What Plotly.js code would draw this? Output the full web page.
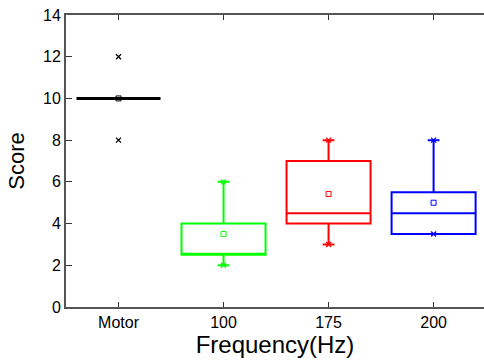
<!DOCTYPE html>
<html>
<head>
<meta charset="utf-8">
<script src="https://cdn.plot.ly/plotly-3.0.1.min.js"></script>
<style>html,body{margin:0;padding:0;background:#fff;}#chart{width:484px;height:363px;}</style>
</head>
<body>
<div id="chart"></div>
<script>
var categories = ['Motor', '100', '175', '200'];
var q1Values = [10, 2.5, 4, 3.5];
var medianValues = [10, 2.5, 4.5, 4.5];
var q3Values = [10, 4, 7, 5.5];
var lowerValues = [10, 2, 3, 3.5];
var upperValues = [10, 6, 8, 8];
var meanValues = [10, 3.5, 5.42, 5.0];
var minValues = [8, 2, 3, 3.5];
var maxValues = [12, 6, 8, 8];
var colors = ['#000000', '#00ff00', '#ff0000', '#0000ff'];
var lineWidths = [3, 2, 2, 2];

var traces = [];
for (var i = 0; i < categories.length; i++) {
  traces.push({
    type: 'box',
    x: [categories[i]],
    q1: [q1Values[i]],
    median: [medianValues[i]],
    q3: [q3Values[i]],
    lowerfence: [lowerValues[i]],
    upperfence: [upperValues[i]],
    width: 0.8,
    whiskerwidth: 0.14,
    line: {color: colors[i], width: lineWidths[i]},
    fillcolor: 'rgba(0,0,0,0)',
    boxpoints: false,
    hoverinfo: 'skip',
    showlegend: false
  });
  traces.push({
    type: 'scatter',
    mode: 'markers',
    x: [categories[i], categories[i]],
    y: [minValues[i], maxValues[i]],
    marker: {symbol: 'x-thin', size: 5, line: {color: colors[i], width: 1.3}},
    hoverinfo: 'skip',
    showlegend: false
  });
  traces.push({
    type: 'scatter',
    mode: 'markers',
    x: [categories[i]],
    y: [meanValues[i]],
    marker: {symbol: 'square-open', size: 5, color: colors[i], line: {color: colors[i], width: 1}},
    hoverinfo: 'skip',
    showlegend: false
  });
}

var layout = {
  width: 484,
  height: 363,
  margin: {l: 66, r: 0, t: 15, b: 56},
  paper_bgcolor: '#ffffff',
  plot_bgcolor: '#ffffff',
  font: {family: 'Liberation Sans, Arial, sans-serif', color: '#000000', size: 16},
  showlegend: false,
  xaxis: {
    type: 'category',
    categoryorder: 'array',
    categoryarray: categories,
    range: [-0.5, 3.48],
    showgrid: false,
    zeroline: false,
    showline: true,
    linecolor: '#555555',
    linewidth: 2,
    mirror: 'ticks',
    ticks: 'inside',
    ticklen: 5,
    tickwidth: 1,
    tickcolor: '#333333',
    tickfont: {size: 16},
    automargin: false,
    title: {text: 'Frequency(Hz)', font: {size: 24}, standoff: 2}
  },
  yaxis: {
    range: [0, 14],
    tickvals: [0, 2, 4, 6, 8, 10, 12, 14],
    showgrid: false,
    zeroline: false,
    showline: true,
    linecolor: '#555555',
    linewidth: 2,
    ticks: 'inside',
    ticklen: 6,
    tickwidth: 1,
    tickcolor: '#333333',
    tickfont: {size: 16},
    automargin: false,
    title: {text: 'Score', font: {size: 22}, standoff: 12}
  }
};

Plotly.newPlot('chart', traces, layout, {displayModeBar: false, staticPlot: true});
</script>
</body>
</html>
